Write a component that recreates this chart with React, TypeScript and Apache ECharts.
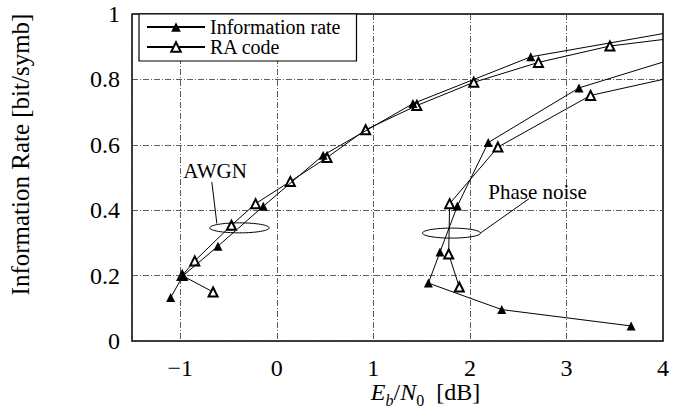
import React, { useEffect, useRef } from 'react';
import * as echarts from 'echarts';

// ---- data (E_b/N_0 in dB, information rate in bit/symbol) ----
const awgnInfoRate: number[][] = [
  [-1.1, 0.133], [-0.97, 0.2], [-0.61, 0.29], [-0.14, 0.412], [0.48, 0.568],
  [1.41, 0.726], [2.63, 0.869],
];
const awgnInfoRateEdge = [4.0, 0.94];
const awgnRaCode: number[][] = [
  [-0.66, 0.15], [-0.98, 0.2], [-0.85, 0.245], [-0.47, 0.354], [-0.22, 0.42],
  [0.14, 0.488], [0.52, 0.561], [0.92, 0.646], [1.45, 0.72], [2.04, 0.791],
  [2.71, 0.852], [3.45, 0.902],
];
const awgnRaCodeEdge = [4.0, 0.922];
const phaseInfoRate: number[][] = [
  [3.67, 0.046], [2.33, 0.096], [1.57, 0.177], [1.69, 0.272], [1.87, 0.413],
  [2.19, 0.607], [3.13, 0.774],
];
const phaseInfoRateEdge = [4.0, 0.853];
const phaseRaCode: number[][] = [
  [1.89, 0.165], [1.78, 0.266], [1.79, 0.42], [2.29, 0.593], [3.25, 0.751],
];
const phaseRaCodeEdge = [4.0, 0.8];

const seriesNames = ['Information rate', 'RA code'];
const xRange = [-1.5, 4];
const yRange = [0, 1];
const yStep = 0.2;

// annotations in data units
const awgnLabelAt = [-0.64, 0.519];
const awgnEllipseAt = [-0.387, 0.346];
const awgnLeader = [[-0.673, 0.486], [-0.621, 0.359]];
const phaseLabelAt = [2.19, 0.456];
const phaseEllipseAt = [1.809, 0.33];
const phaseLeader = [[2.109, 0.33], [2.612, 0.435]];

const FONT = 'Liberation Serif, Times New Roman, serif';

function build(points: number[][], edge: number[]) {
  return [...points.map((p) => ({ value: p })), { value: edge, symbol: 'none' }];
}

export default function App() {
  const ref = useRef<HTMLDivElement>(null);
  useEffect(() => {
    if (!ref.current) return;
    const chart = echarts.init(ref.current, null, { renderer: 'svg' });
    const lineCommon = {
      type: 'line' as const,
      lineStyle: { color: '#000', width: 1 },
      symbolSize: 9,
      emphasis: { disabled: true },
      clip: true,
    };
    chart.setOption({
      animation: false,
      backgroundColor: '#fff',
      grid: {
        left: 132, right: 23, top: 14, bottom: 69,
        show: true, borderColor: '#000', borderWidth: 1.5, backgroundColor: 'transparent',
        outerBoundsMode: 'none',
      },
      legend: {
        data: seriesNames,
        orient: 'vertical',
        left: 139, top: 14,
        padding: [3, 16, 4, 7],
        itemGap: 0,
        itemWidth: 58,
        itemHeight: 12,
        borderColor: '#000', borderWidth: 1.2, borderRadius: 0,
        backgroundColor: '#fff',
        selectedMode: false,
        textStyle: { fontFamily: FONT, fontSize: 20, color: '#000', lineHeight: 20 },
        z: 10,
      },
      xAxis: {
        type: 'value',
        min: xRange[0], max: xRange[1], splitNumber: 5,
        axisLine: { show: false },
        axisTick: { show: false },
        axisLabel: {
          margin: 15, fontFamily: FONT, fontSize: 24, color: '#000',
          formatter: (v: number) => (Math.abs(v - xRange[0]) < 1e-9 ? '' : String(v).replace('-', '\u2212')),
        },
        splitLine: { show: true, lineStyle: { color: '#333', width: 0.8, type: [6, 2, 1, 2] } },
        name: '{i|E}{si|b}{n|/}{i|N}{s|0}{n|  [dB]}',
        nameLocation: 'middle',
        nameGap: 40,
        nameMoveOverlap: false,
        nameTextStyle: {
          fontFamily: FONT, fontSize: 24, color: '#000', padding: [0, 0, 0, 56],
          rich: {
            i: { fontFamily: FONT, fontSize: 24, fontStyle: 'italic', color: '#000', lineHeight: 22 },
            n: { fontFamily: FONT, fontSize: 24, color: '#000', lineHeight: 22 },
            si: { fontFamily: FONT, fontSize: 16, fontStyle: 'italic', color: '#000', lineHeight: 14, padding: [16, 0, 0, 0] },
            s: { fontFamily: FONT, fontSize: 16, color: '#000', lineHeight: 14, padding: [16, 0, 0, 0] },
          },
        },
      },
      yAxis: {
        type: 'value',
        min: yRange[0], max: yRange[1], interval: yStep,
        axisLine: { show: false },
        axisTick: { show: false },
        axisLabel: { margin: 12, fontFamily: FONT, fontSize: 24, color: '#000' },
        splitLine: { show: true, lineStyle: { color: '#333', width: 0.8, type: [6, 2, 1, 2] } },
        name: 'Information Rate [bit/symb]',
        nameLocation: 'middle',
        nameGap: 99,
        nameMoveOverlap: false,
        nameTextStyle: { fontFamily: FONT, fontSize: 25, color: '#000', padding: [0, 0, 0, 46] },
      },
      series: [
        { ...lineCommon, name: seriesNames[1], symbol: 'emptyTriangle', itemStyle: { color: '#000' }, data: build(awgnRaCode, awgnRaCodeEdge), z: 2 },
        { ...lineCommon, name: seriesNames[1], symbol: 'emptyTriangle', itemStyle: { color: '#000' }, data: build(phaseRaCode, phaseRaCodeEdge), z: 2 },
        { ...lineCommon, name: seriesNames[0], symbol: 'triangle', itemStyle: { color: '#000' }, data: build(awgnInfoRate, awgnInfoRateEdge), z: 3 },
        { ...lineCommon, name: seriesNames[0], symbol: 'triangle', itemStyle: { color: '#000' }, data: build(phaseInfoRate, phaseInfoRateEdge), z: 3 },
      ],
    });

    const px = (p: number[]) => chart.convertToPixel({ xAxisIndex: 0, yAxisIndex: 0 }, p) as number[];
    const a1 = px(awgnLabelAt), e1 = px(awgnEllipseAt), l1a = px(awgnLeader[0]), l1b = px(awgnLeader[1]);
    const a2 = px(phaseLabelAt), e2 = px(phaseEllipseAt), l2a = px(phaseLeader[0]), l2b = px(phaseLeader[1]);
    const textStyle = { fontFamily: FONT, fontSize: 21, fill: '#000' };
    const shapeStyle = { fill: 'none', stroke: '#000', lineWidth: 1 };
    chart.setOption({
      graphic: [
        { type: 'text', x: a1[0], y: a1[1], z: 20, style: { ...textStyle, text: 'AWGN', align: 'center', verticalAlign: 'middle', textAlign: 'center', textVerticalAlign: 'middle' } },
        { type: 'ellipse', z: 20, shape: { cx: e1[0], cy: e1[1], rx: 29.7, ry: 5 }, style: shapeStyle },
        { type: 'line', z: 20, shape: { x1: l1a[0], y1: l1a[1], x2: l1b[0], y2: l1b[1] }, style: shapeStyle },
        { type: 'text', x: a2[0], y: a2[1], z: 20, style: { ...textStyle, text: 'Phase noise', align: 'left', verticalAlign: 'middle', textAlign: 'left', textVerticalAlign: 'middle' } },
        { type: 'ellipse', z: 20, shape: { cx: e2[0], cy: e2[1], rx: 29, ry: 5 }, style: shapeStyle },
        { type: 'line', z: 20, shape: { x1: l2a[0], y1: l2a[1], x2: l2b[0], y2: l2b[1] }, style: shapeStyle },
      ],
    });
    return () => chart.dispose();
  }, []);
  return <div ref={ref} style={{ position: 'fixed', left: 0, top: 0, width: 686, height: 410 }} />;
}
